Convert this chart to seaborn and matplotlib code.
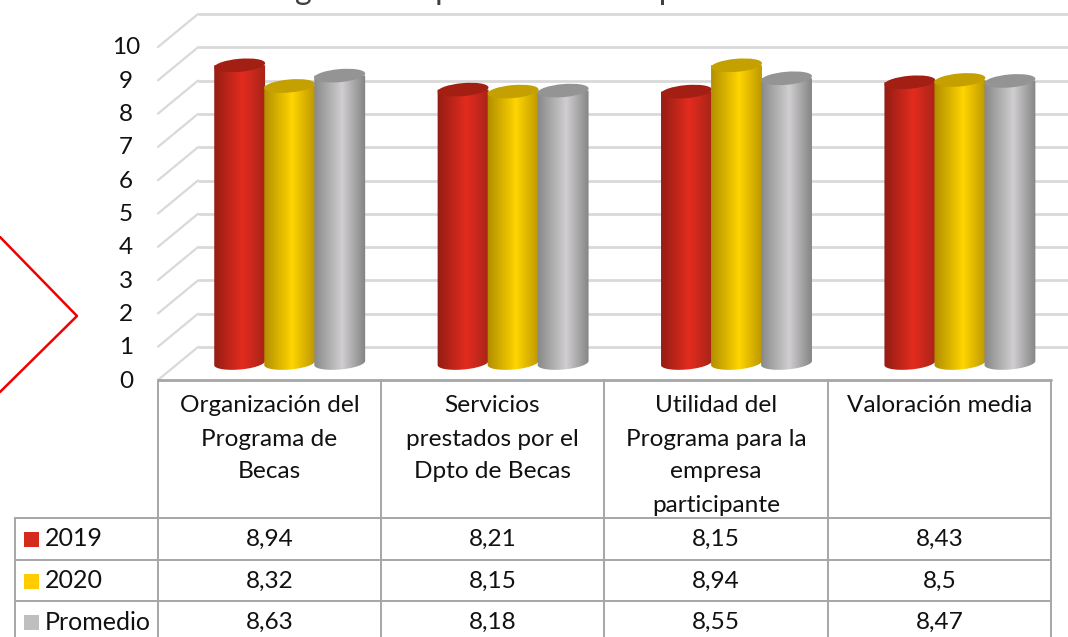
import numpy as np
import pandas as pd
import seaborn as sns
import matplotlib.pyplot as plt
from matplotlib.colors import LinearSegmentedColormap
from matplotlib.patches import Ellipse, PathPatch, Rectangle
from matplotlib.path import Path
from matplotlib.transforms import IdentityTransform

categories = ["Organización del\nPrograma de\nBecas", "Servicios\nprestados por el\nDpto de Becas",
              "Utilidad del\nPrograma para la\nempresa\nparticipante", "Valoración media"]
years = ["2019", "2020", "Promedio"]
v2019 = [8.94, 8.21, 8.15, 8.43]
v2020 = [8.32, 8.15, 8.94, 8.5]
promedio = [8.63, 8.18, 8.55, 8.47]
labels_2019 = ["8,94", "8,21", "8,15", "8,43"]
labels_2020 = ["8,32", "8,15", "8,94", "8,5"]
labels_prom = ["8,63", "8,18", "8,55", "8,47"]
yticks = list(range(0, 11))
# the title is cut by the top edge, only its descenders can be read
title = "Programa de prácticas en empresas"

W, H = 1068, 637
sns.set_theme(style="white")
plt.rcParams['font.family'] = ['Lato', 'DejaVu Sans']

df = pd.DataFrame({"cat": categories * 3,
                   "year": [y for y in years for _ in categories],
                   "val": v2019 + v2020 + promedio})

fig = plt.figure(figsize=(W / 100, H / 100), dpi=100, facecolor='white')

# background layer in image pixels: walls, table, arrow
bg = fig.add_axes([0, 0, 1, 1])
bg.set_xlim(0, W)
bg.set_ylim(H, 0)
bg.axis('off')

# bars layer, 0 -> y=363 and 10 -> y=30, room below 0 for the round bottoms
left, right = 178, W
below = 0.4
ax = fig.add_axes([left / W, (H - 363 - below * 33.3) / H, (right - left) / W, (333 + below * 33.3) / H])
ax.patch.set_alpha(0)
sns.barplot(data=df, x="cat", y="val", hue="year", hue_order=years, ax=ax, gap=0, width=0.672,
            palette=["#e02d20", "#ffd500", "#cdcbcd"], legend=False, linewidth=0, saturation=1)
ax.set_xlim(-0.5, -0.5 + (right - left) / 223.4)
ax.set_ylim(-below, 10)
ax.axis('off')

grid_col = "#d9d9d9"
line_col = "#a6a6a6"
for t in yticks:
    front = 380 - 33.3 * t
    back = front - 33
    bg.plot([198, W], [back, back], color=grid_col, lw=2, solid_capstyle='butt', zorder=1)
    bg.plot([158, 198], [front, back], color=grid_col, lw=1.6, zorder=1)
    bg.text(126, front + 1, str(t), ha='center', va='center', fontsize=17.5, color='#111111')

bg.text(245, -1, title, ha='left', va='baseline', fontsize=23.5, color='#404040', clip_on=True)

# red arrow shape cut by the left edge
bg.plot([0, 77, 0], [237, 316, 392], color='#f00000', lw=1.8, zorder=2)

# table lines
col_x = [158, 381, 604, 828, 1051]
row_y = [380, 518, 560, 601, 637]
bg.plot([158, 1051], [row_y[0], row_y[0]], color=line_col, lw=2, zorder=2)
for x in col_x:
    bg.plot([x, x], [row_y[0], H], color=line_col, lw=1.4, zorder=2)
for y in row_y[1:4]:
    bg.plot([15, 1051], [y, y], color=line_col, lw=1.4, zorder=2)
bg.plot([15, 15], [518, H], color=line_col, lw=1.4, zorder=2)

for i, cat in enumerate(categories):
    cx = (col_x[i] + col_x[i + 1]) / 2
    for j, line in enumerate(cat.split("\n")):
        bg.text(cx, 406 + j * 33, line, ha='center', va='center', fontsize=17.6, color='#111111')

rows = [labels_2019, labels_2020, labels_prom]
row_mid = [539, 581, 622]
swatches = ["#d52b1e", "#ffcc00", "#c0bfc0"]
for r, vals in enumerate(rows):
    bg.add_patch(Rectangle((24, row_mid[r] - 7.5), 15, 15, color=swatches[r], lw=0, zorder=3))
    bg.text(45, row_mid[r], years[r], ha='left', va='center', fontsize=18, color='#111111')
    for i, v in enumerate(vals):
        bg.text((col_x[i] + col_x[i + 1]) / 2, row_mid[r], v, ha='center', va='center', fontsize=17.6,
                color='#111111')

# turn every flat bar into a shaded cylinder
edge_cols = [("#8f1c12", "#e32c1f", "#a32317"), ("#ad8a00", "#ffd500", "#b89300"), ("#858585", "#d0ced0", "#7f7f7f")]
cap_cols = ["#a31f14", "#c4a000", "#949494"]
cap_h, tilt = 13, 5
n_groups = len(categories)
z = 5
for g in range(n_groups):
    for s in range(len(years)):
        bar = ax.patches[s * n_groups + g]
        bar.set_visible(False)
        x0, x1 = bar.get_x(), bar.get_x() + bar.get_width()
        top = bar.get_height()
        (px0, py0), (px1, py1) = ax.transData.transform([(x0, 0), (x1, top)])
        a, b = (px1 - px0) / 2 + 0.5, cap_h / 2
        cx = (px0 + px1) / 2
        th = np.radians(tilt)
        # outline: down the left side, round the bottom, up the right side
        t = np.linspace(np.pi, 2 * np.pi, 40)
        ex = a * np.cos(t)
        ey = b * np.sin(t)
        xs = cx + ex * np.cos(th) - ey * np.sin(th)
        ys = py0 + ex * np.sin(th) + ey * np.cos(th)
        verts = [(xs[0], py1)] + list(zip(xs, ys)) + [(xs[-1], py1), (xs[0], py1)]
        outline = PathPatch(Path(verts), transform=IdentityTransform(), facecolor='none', edgecolor='none')
        fig.add_artist(outline)
        cmap = LinearSegmentedColormap.from_list("c", [(0, edge_cols[s][0]), (0.55, edge_cols[s][1]), (1, edge_cols[s][2])])
        im = ax.imshow(np.linspace(0, 1, 128).reshape(1, -1), cmap=cmap, aspect='auto', vmin=0, vmax=1,
                       extent=(x0 - 0.01, x1 + 0.01, -below, top + 0.2), zorder=z)
        im.set_clip_path(outline)
        ax.add_patch(Ellipse((cx, py1), 2 * a, cap_h, angle=tilt, transform=IdentityTransform(),
                             facecolor=cap_cols[s], edgecolor='none', clip_on=False, zorder=z + 1))
        z += 2
ax.set_xlim(-0.5, -0.5 + (right - left) / 223.4)
ax.set_ylim(-below, 10)

fig.savefig('out.png', dpi=100)
